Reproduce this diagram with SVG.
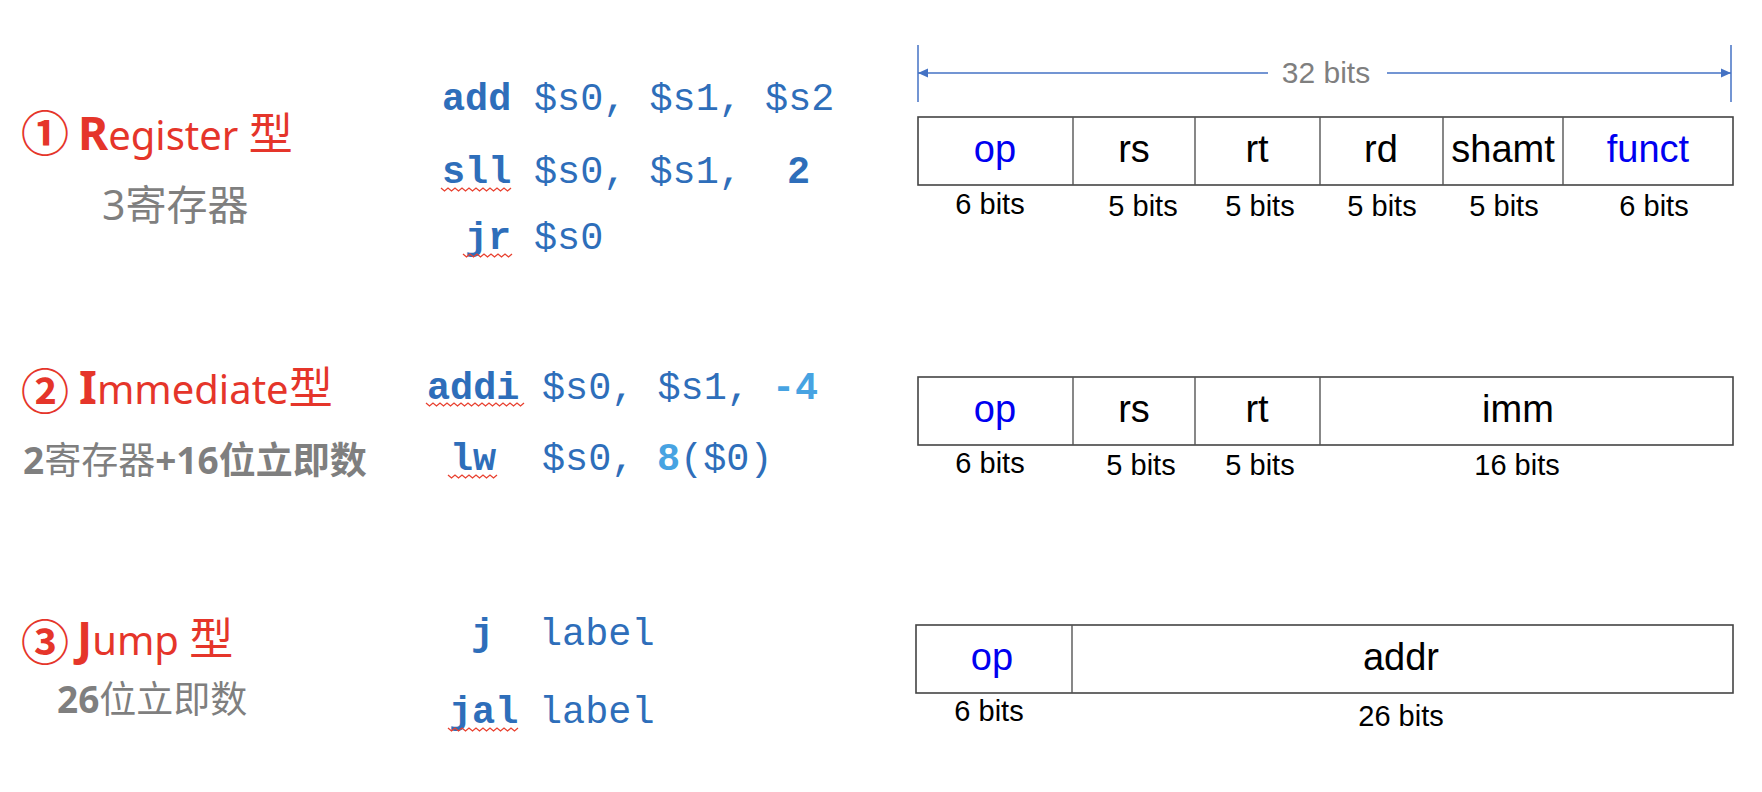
<svg xmlns="http://www.w3.org/2000/svg" width="1762" height="792" viewBox="0 0 1762 792">
<style>
.title{font-family:"Noto Sans","Noto Sans CJK SC",sans-serif;font-size:40px;fill:#E5352A;}
.cap{font-weight:bold;font-size:46px;}
.xing{font-family:"Noto Sans CJK SC",sans-serif;font-size:44px;}
.circ{font-family:"Noto Sans CJK SC",sans-serif;font-size:48px;font-weight:bold;fill:#E5352A;}
.sub{font-family:"Noto Sans","Noto Sans CJK SC",sans-serif;font-size:38px;fill:#7F7F7F;}
.b{font-weight:bold;}
.code{font-family:"Liberation Mono","Courier New",monospace;font-size:38.5px;fill:#2E6EBA;}
.lb{fill:#47A3E2;}
.squig{fill:none;stroke:#E8402F;stroke-width:1.3;}
.box{fill:#fff;stroke:#444;stroke-width:1.6;}
.div{stroke:#555;stroke-width:1.4;}
.fld{font-family:"Liberation Sans",Arial,sans-serif;font-size:38px;fill:#000;text-anchor:middle;}
.blue{fill:#0000F0;}
.bits{font-family:"Liberation Sans",Arial,sans-serif;font-size:29px;fill:#000;text-anchor:middle;}
.dim{stroke:#4472C4;stroke-width:1.5;fill:none;}
.dimlbl{font-family:"Liberation Sans",Arial,sans-serif;font-size:30px;fill:#7F7F7F;text-anchor:middle;}
</style>
<defs>
<marker id="arr" viewBox="0 0 10 10" refX="10" refY="5" markerWidth="10" markerHeight="10" markerUnits="userSpaceOnUse" orient="auto-start-reverse">
<path d="M0,0.5 L10,5 L0,9.5 Z" fill="#4472C4"/>
</marker>
</defs>
<rect width="1762" height="792" fill="#fff"/>

<g id="title-register">
<text x="45" y="151" class="circ" text-anchor="middle">①</text>
<text y="150" class="title"><tspan x="78" class="cap">R</tspan>egister <tspan class="xing">型</tspan></text>
<text x="102" y="220" class="sub" style="font-size:41px">3寄存器</text>
</g>
<g id="title-immediate">
<text x="45" y="409" class="circ" text-anchor="middle">②</text>
<text y="404" class="title"><tspan x="79" class="cap">I</tspan>mmediate<tspan class="xing">型</tspan></text>
<text x="23" y="474" class="sub" style="font-size:37px"><tspan class="b">2</tspan>寄存器<tspan class="b">+16位立即数</tspan></text>
</g>
<g id="title-jump">
<text x="45" y="660" class="circ" text-anchor="middle">③</text>
<text y="655" class="title"><tspan x="77" class="cap">J</tspan>ump <tspan class="xing">型</tspan></text>
<text x="57" y="713" class="sub" style="font-size:37px"><tspan class="b">26</tspan>位立即数</text>
</g>

<g id="code-register">
<text y="110" class="code"><tspan x="442" class="b">add</tspan><tspan x="534">$s0, $s1, $s2</tspan></text>
<text y="183" class="code"><tspan x="442" class="b">sll</tspan><tspan x="534">$s0, $s1,</tspan><tspan x="787" class="b">2</tspan></text>
<text y="249" class="code"><tspan x="465" class="b">jr</tspan><tspan x="534">$s0</tspan></text>
<path class="squig" d="M441,188 l3.5,3 l3.5,-3 l3.5,3 l3.5,-3 l3.5,3 l3.5,-3 l3.5,3 l3.5,-3 l3.5,3 l3.5,-3 l3.5,3 l3.5,-3 l3.5,3 l3.5,-3 l3.5,3 l3.5,-3 l3.5,3 l3.5,-3 l3.5,3 l3.5,-3"/>
<path class="squig" d="M463,254 l3.5,3 l3.5,-3 l3.5,3 l3.5,-3 l3.5,3 l3.5,-3 l3.5,3 l3.5,-3 l3.5,3 l3.5,-3 l3.5,3 l3.5,-3 l3.5,3 l3.5,-3"/>
</g>
<g id="code-immediate">
<text y="399" class="code"><tspan x="427" class="b">addi</tspan><tspan x="542">$s0, $s1,</tspan><tspan x="772" class="b lb">-4</tspan></text>
<text y="470" class="code"><tspan x="450" class="b">lw</tspan><tspan x="542">$s0,</tspan><tspan x="657" class="b lb">8</tspan><tspan>($0)</tspan></text>
<path class="squig" d="M426,403 l3.5,3 l3.5,-3 l3.5,3 l3.5,-3 l3.5,3 l3.5,-3 l3.5,3 l3.5,-3 l3.5,3 l3.5,-3 l3.5,3 l3.5,-3 l3.5,3 l3.5,-3 l3.5,3 l3.5,-3 l3.5,3 l3.5,-3 l3.5,3 l3.5,-3 l3.5,3 l3.5,-3 l3.5,3 l3.5,-3 l3.5,3 l3.5,-3 l3.5,3 l3.5,-3"/>
<path class="squig" d="M448,475 l3.5,3 l3.5,-3 l3.5,3 l3.5,-3 l3.5,3 l3.5,-3 l3.5,3 l3.5,-3 l3.5,3 l3.5,-3 l3.5,3 l3.5,-3 l3.5,3 l3.5,-3"/>
</g>
<g id="code-jump">
<text y="645" class="code"><tspan x="471" class="b">j</tspan><tspan x="539">label</tspan></text>
<text y="723" class="code"><tspan x="449" class="b">jal</tspan><tspan x="539">label</tspan></text>
<path class="squig" d="M448,728 l3.5,3 l3.5,-3 l3.5,3 l3.5,-3 l3.5,3 l3.5,-3 l3.5,3 l3.5,-3 l3.5,3 l3.5,-3 l3.5,3 l3.5,-3 l3.5,3 l3.5,-3 l3.5,3 l3.5,-3 l3.5,3 l3.5,-3 l3.5,3 l3.5,-3"/>
</g>

<g id="format-register">
<rect class="box" x="918" y="117" width="815" height="68"/>
<line class="div" x1="1073" y1="117" x2="1073" y2="185"/>
<line class="div" x1="1195" y1="117" x2="1195" y2="185"/>
<line class="div" x1="1320" y1="117" x2="1320" y2="185"/>
<line class="div" x1="1443" y1="117" x2="1443" y2="185"/>
<line class="div" x1="1563" y1="117" x2="1563" y2="185"/>
<text class="fld blue" x="995" y="162">op</text>
<text class="fld" x="1134" y="162">rs</text>
<text class="fld" x="1257" y="162">rt</text>
<text class="fld" x="1381" y="162">rd</text>
<text class="fld" x="1503" y="162">shamt</text>
<text class="fld blue" x="1648" y="162">funct</text>
<text class="bits" x="990" y="214">6 bits</text>
<text class="bits" x="1143" y="216">5 bits</text>
<text class="bits" x="1260" y="216">5 bits</text>
<text class="bits" x="1382" y="216">5 bits</text>
<text class="bits" x="1504" y="216">5 bits</text>
<text class="bits" x="1654" y="216">6 bits</text>
</g>
<g id="format-immediate">
<rect class="box" x="918" y="377" width="815" height="68"/>
<line class="div" x1="1073" y1="377" x2="1073" y2="445"/>
<line class="div" x1="1195" y1="377" x2="1195" y2="445"/>
<line class="div" x1="1320" y1="377" x2="1320" y2="445"/>
<text class="fld blue" x="995" y="422">op</text>
<text class="fld" x="1134" y="422">rs</text>
<text class="fld" x="1257" y="422">rt</text>
<text class="fld" x="1518" y="422">imm</text>
<text class="bits" x="990" y="473">6 bits</text>
<text class="bits" x="1141" y="475">5 bits</text>
<text class="bits" x="1260" y="475">5 bits</text>
<text class="bits" x="1517" y="475">16 bits</text>
</g>
<g id="format-jump">
<rect class="box" x="916" y="625" width="817" height="68"/>
<line class="div" x1="1072" y1="625" x2="1072" y2="693"/>
<text class="fld blue" x="992" y="670">op</text>
<text class="fld" x="1401" y="670">addr</text>
<text class="bits" x="989" y="721">6 bits</text>
<text class="bits" x="1401" y="726">26 bits</text>
</g>

<g id="connectors">
<line class="dim" x1="918" y1="45" x2="918" y2="102"/>
<line class="dim" x1="1731" y1="45" x2="1731" y2="102"/>
<line class="dim" x1="1268" y1="73" x2="918" y2="73" marker-end="url(#arr)"/>
<line class="dim" x1="1387" y1="73" x2="1731" y2="73" marker-end="url(#arr)"/>
<text class="dimlbl" x="1326" y="83">32 bits</text>
</g>
</svg>
